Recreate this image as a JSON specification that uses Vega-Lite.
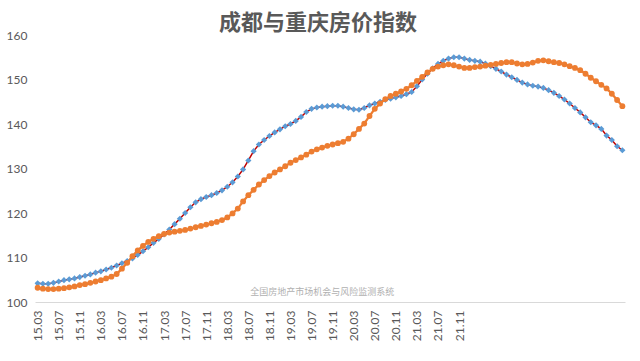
{
  "$schema": "https://vega.github.io/schema/vega-lite/v6.json",
  "width": 590,
  "height": 267,
  "autosize": {"type": "none"},
  "padding": {"left": 35, "top": 35, "right": 15, "bottom": 59},
  "background": "white",
  "title": {"text": "成都与重庆房价指数", "fontSize": 22, "fontWeight": "bold", "color": "#595959", "font": "Noto Sans CJK SC", "anchor": "middle", "frame": "group", "offset": 0, "dy": 6, "dx": -12},
  "config": {"view": {"stroke": null}},
  "data": {"values": [
    {"m":"15.03","cd":104.2,"cq":103.2},{"m":"15.04","cd":104.1,"cq":103.0},{"m":"15.05","cd":104.1,"cq":102.9},{"m":"15.06","cd":104.3,"cq":102.9},
    {"m":"15.07","cd":104.6,"cq":103.0},{"m":"15.08","cd":104.9,"cq":103.1},{"m":"15.09","cd":105.1,"cq":103.3},{"m":"15.10","cd":105.3,"cq":103.5},
    {"m":"15.11","cd":105.6,"cq":103.8},{"m":"15.12","cd":105.9,"cq":104.0},{"m":"16.01","cd":106.2,"cq":104.3},{"m":"16.02","cd":106.6,"cq":104.6},
    {"m":"16.03","cd":106.9,"cq":104.9},{"m":"16.04","cd":107.3,"cq":105.3},{"m":"16.05","cd":107.7,"cq":105.7},{"m":"16.06","cd":108.2,"cq":106.3},
    {"m":"16.07","cd":108.7,"cq":107.5},{"m":"16.08","cd":109.2,"cq":108.8},{"m":"16.09","cd":109.8,"cq":110.3},{"m":"16.10","cd":110.6,"cq":111.6},
    {"m":"16.11","cd":111.4,"cq":112.6},{"m":"16.12","cd":112.3,"cq":113.5},{"m":"17.01","cd":113.3,"cq":114.2},{"m":"17.02","cd":114.2,"cq":114.8},
    {"m":"17.03","cd":115.2,"cq":115.3},{"m":"17.04","cd":116.3,"cq":115.6},{"m":"17.05","cd":117.5,"cq":115.8},{"m":"17.06","cd":118.7,"cq":116.0},
    {"m":"17.07","cd":120.0,"cq":116.2},{"m":"17.08","cd":121.3,"cq":116.5},{"m":"17.09","cd":122.4,"cq":116.8},{"m":"17.10","cd":123.1,"cq":117.1},
    {"m":"17.11","cd":123.6,"cq":117.4},{"m":"17.12","cd":124.0,"cq":117.7},{"m":"18.01","cd":124.5,"cq":118.0},{"m":"18.02","cd":125.1,"cq":118.4},
    {"m":"18.03","cd":125.9,"cq":119.0},{"m":"18.04","cd":126.9,"cq":119.9},{"m":"18.05","cd":128.2,"cq":121.0},{"m":"18.06","cd":129.8,"cq":122.6},
    {"m":"18.07","cd":131.8,"cq":124.0},{"m":"18.08","cd":133.9,"cq":125.2},{"m":"18.09","cd":135.4,"cq":126.4},{"m":"18.10","cd":136.4,"cq":127.4},
    {"m":"18.11","cd":137.3,"cq":128.3},{"m":"18.12","cd":138.1,"cq":129.1},{"m":"19.01","cd":138.8,"cq":129.8},{"m":"19.02","cd":139.5,"cq":130.5},
    {"m":"19.03","cd":140.0,"cq":131.3},{"m":"19.04","cd":140.7,"cq":131.9},{"m":"19.05","cd":141.6,"cq":132.5},{"m":"19.06","cd":142.7,"cq":133.1},
    {"m":"19.07","cd":143.4,"cq":133.8},{"m":"19.08","cd":143.7,"cq":134.3},{"m":"19.09","cd":143.9,"cq":134.7},{"m":"19.10","cd":144.0,"cq":135.1},
    {"m":"19.11","cd":144.1,"cq":135.4},{"m":"19.12","cd":144.1,"cq":135.7},{"m":"20.01","cd":143.9,"cq":136.0},{"m":"20.02","cd":143.6,"cq":136.7},
    {"m":"20.03","cd":143.3,"cq":137.7},{"m":"20.04","cd":143.2,"cq":138.9},{"m":"20.05","cd":143.6,"cq":140.1},{"m":"20.06","cd":144.2,"cq":141.8},
    {"m":"20.07","cd":144.6,"cq":143.4},{"m":"20.08","cd":145.0,"cq":144.6},{"m":"20.09","cd":145.4,"cq":145.6},{"m":"20.10","cd":145.7,"cq":146.3},
    {"m":"20.11","cd":146.0,"cq":146.8},{"m":"20.12","cd":146.3,"cq":147.3},{"m":"21.01","cd":146.7,"cq":147.9},{"m":"21.02","cd":147.2,"cq":148.7},
    {"m":"21.03","cd":148.5,"cq":149.7},{"m":"21.04","cd":150.0,"cq":150.6},{"m":"21.05","cd":151.3,"cq":151.6},{"m":"21.06","cd":152.5,"cq":152.4},
    {"m":"21.07","cd":153.5,"cq":152.9},{"m":"21.08","cd":154.2,"cq":153.2},{"m":"21.09","cd":154.7,"cq":153.4},{"m":"21.10","cd":155.0,"cq":153.2},
    {"m":"21.11","cd":155.0,"cq":152.9},{"m":"21.12","cd":154.7,"cq":152.6},{"m":"22.01","cd":154.4,"cq":152.6},{"m":"22.02","cd":154.2,"cq":152.8},
    {"m":"22.03","cd":154.0,"cq":152.9},{"m":"22.04","cd":153.6,"cq":153.1},{"m":"22.05","cd":153.0,"cq":153.3},{"m":"22.06","cd":152.4,"cq":153.5},
    {"m":"22.07","cd":151.8,"cq":153.7},{"m":"22.08","cd":151.1,"cq":153.9},{"m":"22.09","cd":150.5,"cq":153.9},{"m":"22.10","cd":149.9,"cq":153.6},
    {"m":"22.11","cd":149.3,"cq":153.4},{"m":"22.12","cd":148.9,"cq":153.5},{"m":"23.01","cd":148.6,"cq":153.8},{"m":"23.02","cd":148.4,"cq":154.2},
    {"m":"23.03","cd":148.1,"cq":154.3},{"m":"23.04","cd":147.6,"cq":154.1},{"m":"23.05","cd":147.0,"cq":153.9},{"m":"23.06","cd":146.3,"cq":153.7},
    {"m":"23.07","cd":145.5,"cq":153.4},{"m":"23.08","cd":144.6,"cq":153.0},{"m":"23.09","cd":143.6,"cq":152.6},{"m":"23.10","cd":142.6,"cq":152.1},
    {"m":"23.11","cd":141.5,"cq":151.3},{"m":"23.12","cd":140.4,"cq":150.4},{"m":"24.01","cd":139.7,"cq":149.6},{"m":"24.02","cd":138.9,"cq":148.8},
    {"m":"24.03","cd":137.4,"cq":148.0},{"m":"24.04","cd":136.4,"cq":146.8},{"m":"24.05","cd":135.0,"cq":145.4},{"m":"24.06","cd":134.1,"cq":144.0}
  ]},
  "encoding": {
    "x": {
      "field": "m", "type": "ordinal",
      "scale": {"type": "point", "padding": 0.5},
      "axis": {
        "title": null,
        "values": ["15.03","15.07","15.11","16.03","16.07","16.11","17.03","17.07","17.11","18.03","18.07","18.11","19.03","19.07","19.11","20.03","20.07","20.11","21.03","21.07","21.11"],
        "labelAngle": -90, "labelAlign": "right", "labelBaseline": "middle",
        "labelFont": "Lato", "labelFontSize": 12, "labelColor": "#595959", "labelPadding": 8,
        "ticks": false, "grid": false, "domain": true, "domainColor": "#d9d9d9", "domainWidth": 1
      }
    }
  },
  "layer": [
    {
      "mark": {"type": "line", "color": "#C00000", "strokeWidth": 1.5},
      "encoding": {"y": {"field": "cd", "type": "quantitative", "scale": {"domain": [100, 160], "nice": false, "zero": false},
        "axis": {"title": null, "values": [100,110,120,130,140,150,160], "domain": false, "ticks": false, "grid": false, "labelFont": "Lato", "labelFontSize": 12, "labelColor": "#595959", "labelPadding": 8}}}
    },
    {
      "mark": {"type": "point", "shape": "diamond", "filled": true, "color": "#5B9BD5", "size": 38, "opacity": 1},
      "encoding": {"y": {"field": "cd", "type": "quantitative"}}
    },
    {
      "mark": {"type": "line", "color": "#ED7D31", "strokeWidth": 2.25},
      "encoding": {"y": {"field": "cq", "type": "quantitative"}}
    },
    {
      "mark": {"type": "point", "shape": "circle", "filled": true, "color": "#ED7D31", "size": 34, "opacity": 1},
      "encoding": {"y": {"field": "cq", "type": "quantitative"}}
    },
    {
      "data": {"values": [{"m": "18.07", "v": 102.2, "t": "全国房地产市场机会与风险监测系统"}]},
      "mark": {"type": "text", "align": "left", "baseline": "middle", "dx": 2, "font": "Noto Sans CJK SC", "fontSize": 9, "color": "#b0b0b0"},
      "encoding": {"y": {"field": "v", "type": "quantitative"}, "text": {"field": "t"}}
    }
  ]
}
